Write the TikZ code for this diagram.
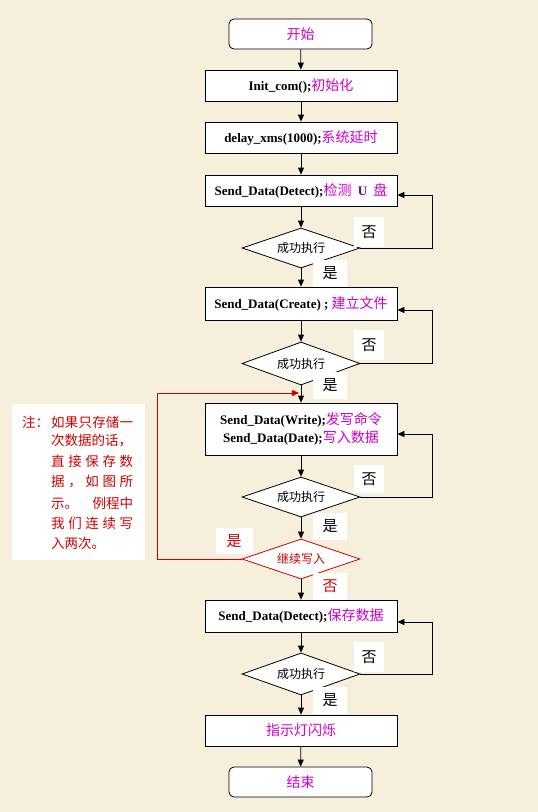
\documentclass[tikz,border=0pt]{standalone}
\usepackage{fontspec}
\setmainfont{Liberation Serif}
\newfontfamily\cjk{Noto Sans CJK SC}
\usetikzlibrary{shapes.geometric,arrows.meta,calc}
\definecolor{bgc}{HTML}{F5EFDC}
\definecolor{mag}{HTML}{CC00CC}
\definecolor{purp}{HTML}{660099}
\definecolor{redc}{HTML}{D00000}
\newcommand{\lt}[1]{{\fontsize{13}{15}\selectfont\bfseries #1}}
\newcommand{\zh}[1]{{\cjk\fontsize{14}{16}\selectfont\color{mag}#1}}
\begin{document}
\begin{tikzpicture}[x=1pt,y=-1pt,
  box/.style={draw,fill=white,line width=0.8pt,minimum width=192pt,inner sep=0pt,align=center},
  term/.style={box,rounded corners=5pt,minimum width=143pt,minimum height=30pt},
  dec/.style={diamond,aspect=2.95,draw,fill=white,line width=0.8pt,minimum width=118pt,minimum height=40pt,inner sep=0pt,font=\cjk\fontsize{12}{14}\selectfont},
  lab/.style={fill=white,inner sep=0pt,minimum width=34pt,minimum height=27pt,font=\cjk\fontsize{15}{17}\selectfont},
  arr/.style={line width=0.8pt,-{Triangle[length=7pt,width=6pt]}},
  ln/.style={line width=0.8pt}]
\fill[bgc] (0,0) rectangle (538,812);
\useasboundingbox (0,0) rectangle (538,812);

\node[term] (start) at (300.5,34) {\zh{开始}};
\node[box,minimum height=31pt] (init) at (301,85.5) {\lt{Init\_com();}\zh{初始化}};
\node[box,minimum height=31pt] (delay) at (301,137.5) {\lt{delay\_xms(1000);}\zh{系统延时}};
\node[box,minimum height=31pt] (det) at (301,190.5) {\lt{Send\_Data(Detect);}\zh{检测\ \ }{\lt{\color{purp}U}}\zh{\ \ 盘}};
\node[dec] (d1) at (301,248) {成功执行};
\node[box,minimum height=33pt] (create) at (301,303.5) {\lt{Send\_Data(Create) ; }\zh{建立文件}};
\node[dec,minimum height=43pt,aspect=2.74] (d2) at (301,363.5) {成功执行};
\node[box,minimum height=52pt] (write) at (301,429) {\lt{Send\_Data(Write);}\zh{发写命令}\\[3pt]\lt{Send\_Data(Date);}\zh{写入数据}};
\node[dec] (d3) at (301,497) {成功执行};
\node[dec,draw=redc,text=redc] (cont) at (301,559) {继续写入};
\node[box,minimum height=32pt] (save) at (301,616) {\lt{Send\_Data(Detect);}\zh{保存数据}};
\node[dec,minimum height=42pt,aspect=2.8] (d4) at (301,674) {成功执行};
\node[box,minimum height=31pt] (led) at (301,730.5) {\zh{指示灯闪烁}};
\node[term] (end) at (300.5,782) {\zh{结束}};

% labels
\node[lab,minimum width=30pt,minimum height=30pt] (n1) at (369,232) {否};
\node[lab] (y1) at (330,273) {是};
\node[lab,minimum width=30pt,minimum height=30pt] (n2) at (369,345) {否};
\node[lab] (y2) at (330,385) {是};
\node[lab,minimum width=30pt,minimum height=28pt] (n3) at (369,479) {否};
\node[lab] (y3) at (330,526) {是};
\node[lab,text=redc,minimum width=37pt,minimum height=26pt] (y4) at (234,541) {是};
\node[lab,text=redc] (n4) at (330,586) {否};
\node[lab,minimum width=30pt,minimum height=30pt] (n5) at (369,657) {否};
\node[lab] (y5) at (330,700) {是};

% main flow
\draw[arr] (start) -- (init);
\draw[arr] (init) -- (delay);
\draw[arr] (delay) -- (det);
\draw[arr] (det) -- (d1);
\draw[arr] (d1) -- (create);
\draw[arr] (create) -- (d2);
\draw[arr] (d2) -- (write);
\draw[arr] (write) -- (d3);
\draw[arr] (d3) -- (cont);
\draw[arr] (cont) -- (save);
\draw[arr] (save) -- (d4);
\draw[arr] (d4) -- (led);
\draw[arr] (led) -- (end);

% retry loops
\coordinate (r1) at (432,195);
\coordinate (r2) at (432,310);
\coordinate (r3) at (432,434);
\coordinate (r4) at (432,622);
\draw[arr] (d1.east) -| (r1) -- (det.east |- r1);
\draw[arr] (d2.east) -| (r2) -- (create.east |- r2);
\draw[arr] (d3.east) -| (r3) -- (write.east |- r3);
\draw[arr] (d4.east) -| (r4) -- (save.east |- r4);

% red loop
\coordinate (rc) at (157,393);
\coordinate (rj) at (299,393);
\draw[arr,draw=redc,-{Triangle[length=7pt,width=6pt,fill=redc]}] (cont.west) -| (rc) -- (rj);

% note
\node[fill=white,minimum width=133pt,minimum height=156pt,inner sep=0pt] (note) at (78.5,481.5) {};
\begin{scope}[every node/.style={anchor=west,inner sep=0pt,text=redc,font=\cjk\fontsize{13.5}{15}\selectfont}]
\node (t0) at (22,422) {注：};
\node (t1) at (51,422) {\makebox[82pt][s]{如\hfill 果\hfill 只\hfill 存\hfill 储\hfill 一}};
\node (t2) at (51,441) {次数据的话，};
\node (t3) at (51,461) {\makebox[82pt][s]{直\hfill 接\hfill 保\hfill 存\hfill 数}};
\node (t4) at (51,482) {\makebox[82pt][s]{据\hfill ，\hfill 如\hfill 图\hfill 所}};
\node (t5) at (51,503) {\makebox[82pt][s]{示。\hfill 例程中}};
\node (t6) at (51,523) {\makebox[82pt][s]{我\hfill 们\hfill 连\hfill 续\hfill 写}};
\node (t7) at (51,543) {入两次。};
\end{scope}
\end{tikzpicture}
\end{document}
